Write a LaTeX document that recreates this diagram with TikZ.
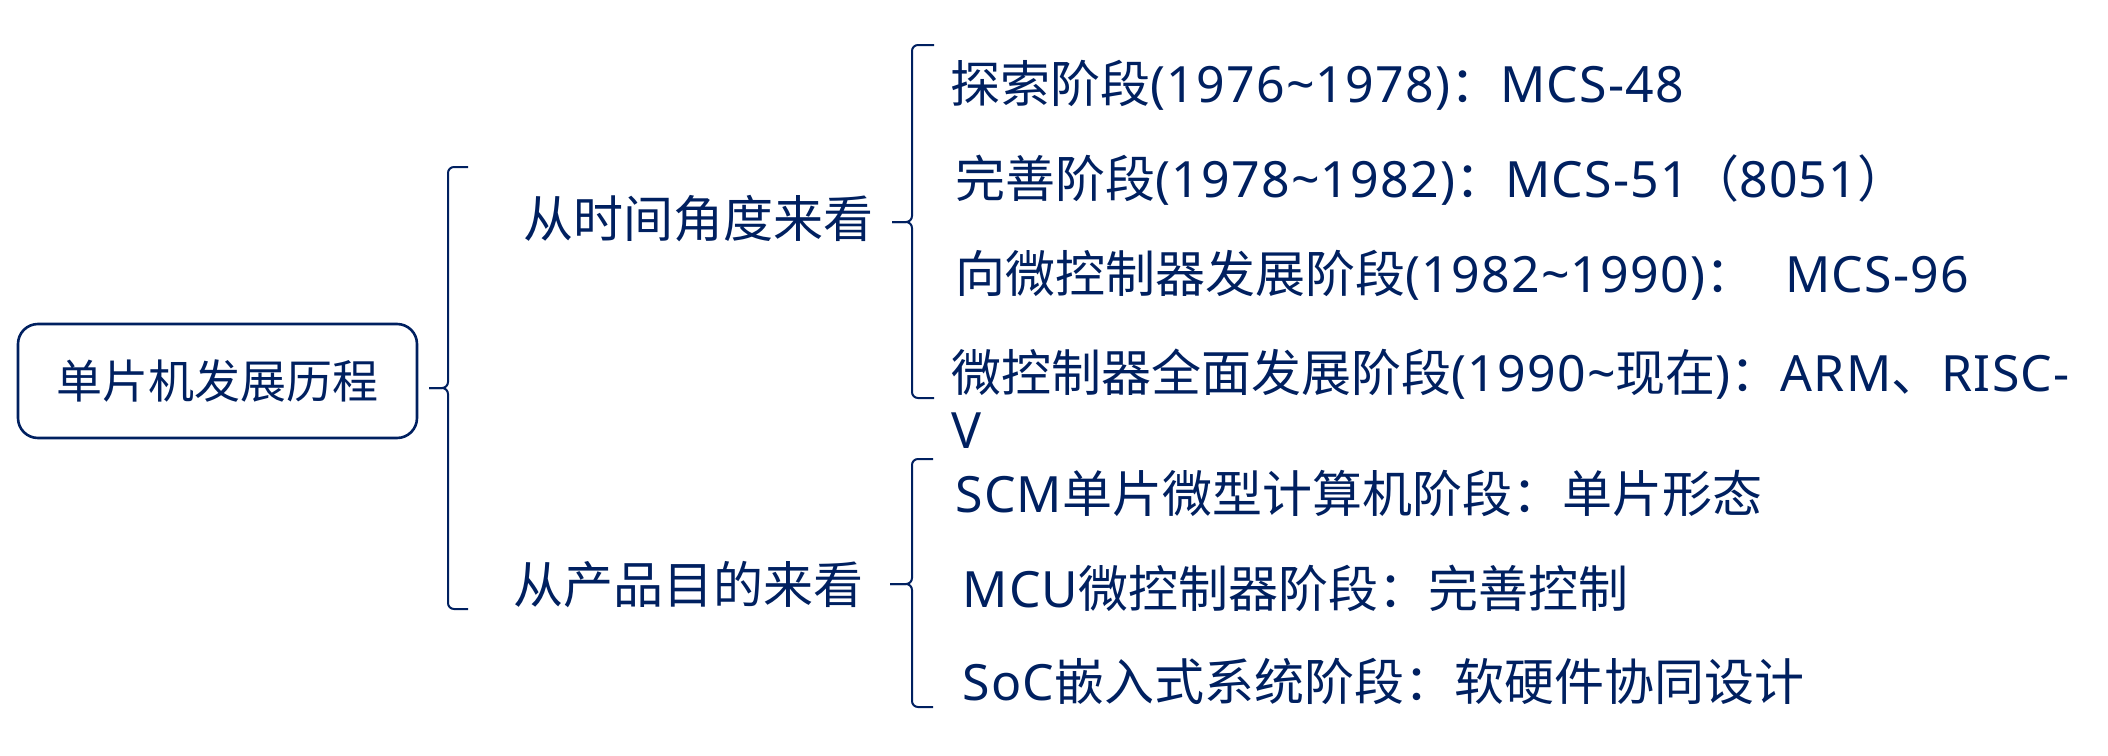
\documentclass[tikz,border=0pt]{standalone}
\usepackage{fontspec}
\setmainfont{Noto Sans}[LetterSpace=2.5]
\newfontfamily\cjk{Noto Sans CJK SC}
\definecolor{mynavy}{RGB}{0,32,96}
\begin{document}
\begin{tikzpicture}[x=0.5pt,y=-0.5pt]
\tikzset{
  lvlthree/.style={anchor=base west, inner sep=0pt, text=mynavy, font=\fontsize{25}{28.5}\selectfont},
  lvltwo/.style={anchor=west, inner sep=0pt, text=mynavy, font=\cjk\fontsize{25}{30}\selectfont},
  rootbox/.style={draw=mynavy, line width=1.3pt, rounded corners=10pt, minimum width=199.5pt, minimum height=57pt, text=mynavy, font=\cjk\fontsize{23}{28}\selectfont, inner sep=0pt},
  bracket/.style={draw=mynavy, line width=1pt, rounded corners=3pt},
}
\useasboundingbox (0,0) rectangle (2108,755);
% root
\node[rootbox] (root) at (217.5,381) {单片机发展历程};
% level 2
\node[lvltwo] (t) at (523,219) {从时间角度来看};
\node[lvltwo] (p) at (513,585) {从产品目的来看};
% level 3 (time)
\node[lvlthree] (a1) at (950,102) {{\cjk 探索阶段}(1976\textasciitilde1978){\cjk ：}MCS-48};
\node[lvlthree] (a2) at (955,197) {{\cjk 完善阶段}(1978\textasciitilde1982){\cjk ：}MCS-51{\cjk （}8051{\cjk ）}};
\node[lvlthree] (a3) at (955,292) {{\cjk 向微控制器发展阶段}(1982\textasciitilde1990){\cjk ：}\hspace{0.6em}MCS-96};
\node[lvlthree, align=left] (a4) at (951,448) {{\cjk 微控制器全面发展阶段}(1990\textasciitilde{\cjk 现在}){\cjk ：}ARM{\cjk 、}RISC-\\V};
% level 3 (product)
\node[lvlthree] (b1) at (955,512) {SCM{\cjk 单片微型计算机阶段：单片形态}};
\node[lvlthree] (b2) at (962,607) {MCU{\cjk 微控制器阶段：完善控制}};
\node[lvlthree] (b3) at (962,700) {SoC{\cjk 嵌入式系统阶段：软硬件协同设计}};
% braces
\coordinate (tip1) at (429,388);
\coordinate (tip2) at (892,222);
\coordinate (tip3) at (890,584);
\draw[bracket] (468,167) -- (448,167) -- (448,388) -- (tip1);
\draw[bracket] (tip1) -- (448,388) -- (448,609) -- (468,609);
\draw[bracket] (934,45) -- (912,45) -- (912,222) -- (tip2);
\draw[bracket] (tip2) -- (912,222) -- (912,398) -- (934,398);
\draw[bracket] (933,459) -- (912,459) -- (912,584) -- (tip3);
\draw[bracket] (tip3) -- (912,584) -- (912,707) -- (933,707);
\end{tikzpicture}
\end{document}
